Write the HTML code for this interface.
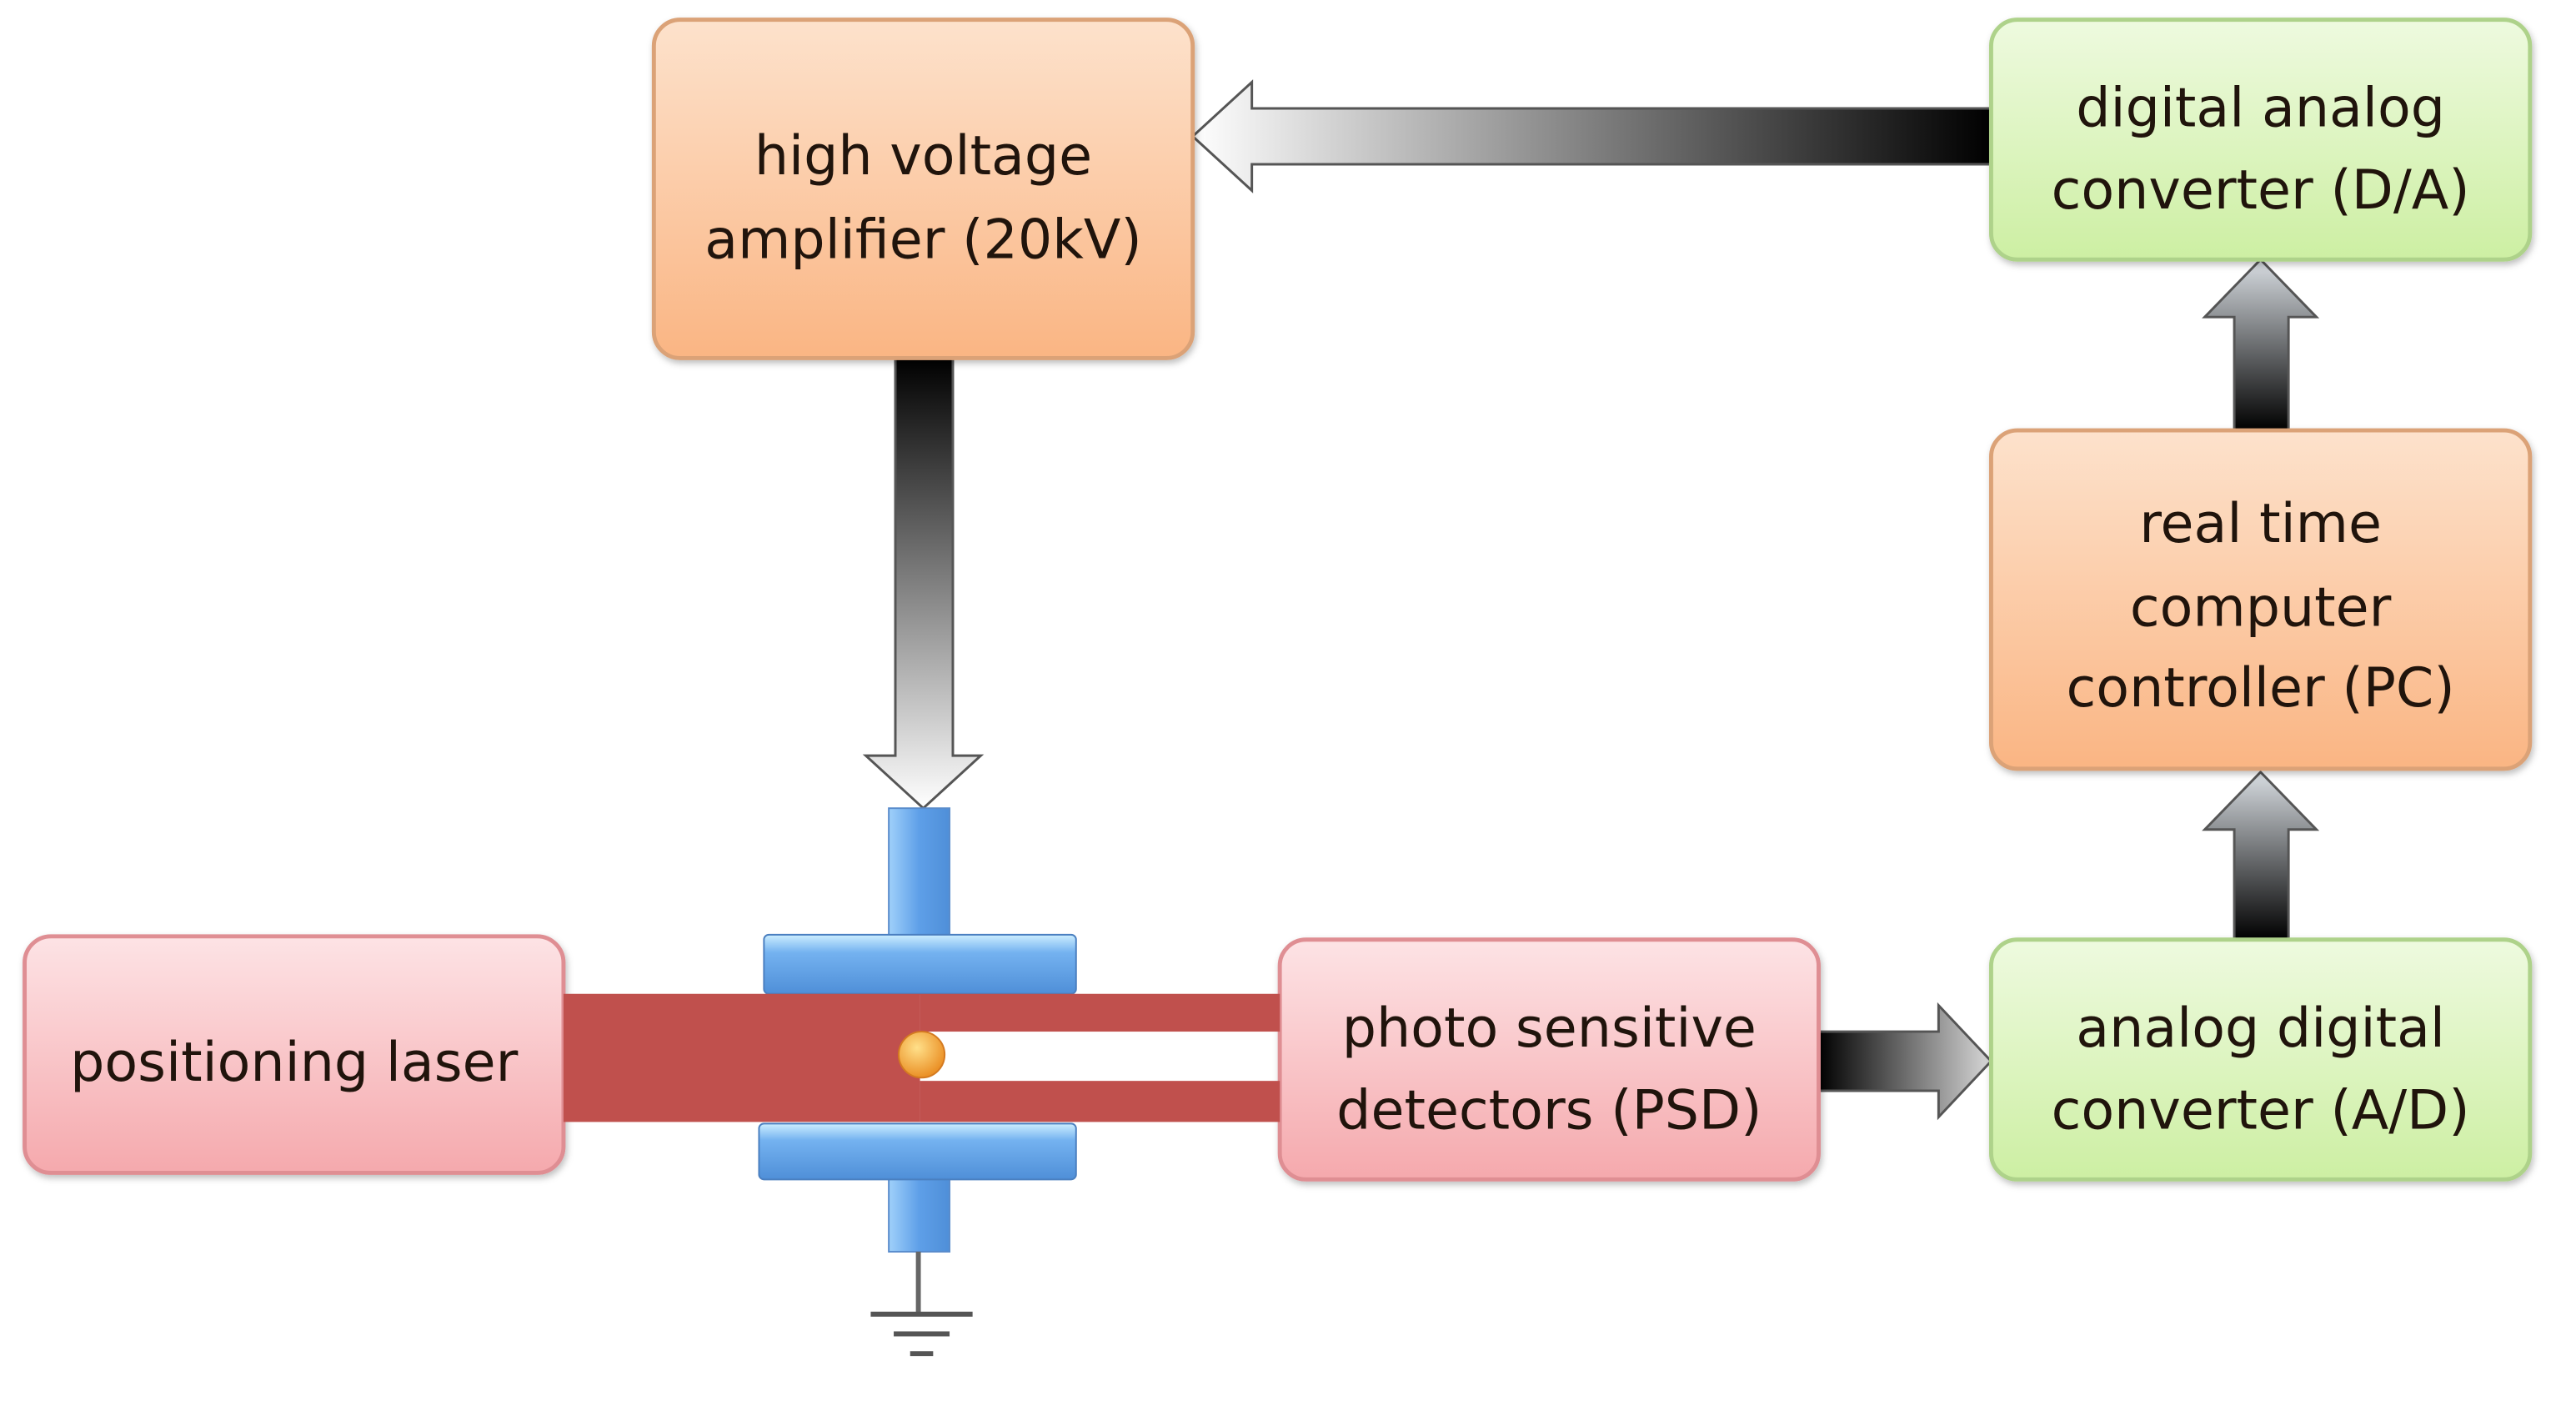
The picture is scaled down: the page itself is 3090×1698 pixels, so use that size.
<!DOCTYPE html>
<html><head><meta charset="utf-8"><style>
html,body{margin:0;padding:0;background:#fff;}
svg{display:block;}
text{font-family:"DejaVu Sans","Liberation Sans",sans-serif;font-size:33px;fill:#20140c;text-anchor:middle;}
</style></head><body>
<svg width="3090" height="1698" viewBox="0 0 1568 862" preserveAspectRatio="none" xmlns="http://www.w3.org/2000/svg">
<defs>
<linearGradient id="or" x1="0" y1="0" x2="0" y2="1"><stop offset="0" stop-color="#fde2cc"/><stop offset="1" stop-color="#fab583"/></linearGradient>
<linearGradient id="gr" x1="0" y1="0" x2="0" y2="1"><stop offset="0" stop-color="#eefadf"/><stop offset="1" stop-color="#cdefa3"/></linearGradient>
<linearGradient id="pk" x1="0" y1="0" x2="0" y2="1"><stop offset="0" stop-color="#fde3e5"/><stop offset="1" stop-color="#f5a9ad"/></linearGradient>
<linearGradient id="bl" x1="0" y1="0" x2="0" y2="1"><stop offset="0" stop-color="#cdeeff"/><stop offset="0.3" stop-color="#74b2f0"/><stop offset="1" stop-color="#4f8fd8"/></linearGradient>
<linearGradient id="blv" x1="0" y1="0" x2="1" y2="0"><stop offset="0" stop-color="#9fd0fa"/><stop offset="0.5" stop-color="#5e9fe8"/><stop offset="1" stop-color="#4f8fd8"/></linearGradient>
<linearGradient id="aL" x1="0" y1="0" x2="1" y2="0"><stop offset="0" stop-color="#fff"/><stop offset="1" stop-color="#000"/></linearGradient>
<linearGradient id="aD" x1="0" y1="0" x2="0" y2="1"><stop offset="0" stop-color="#000"/><stop offset="1" stop-color="#fff"/></linearGradient>
<linearGradient id="aR" x1="0" y1="0" x2="1" y2="0"><stop offset="0" stop-color="#000"/><stop offset="1" stop-color="#d8d8d8"/></linearGradient>
<linearGradient id="aU" x1="0" y1="1" x2="0" y2="0"><stop offset="0" stop-color="#000"/><stop offset="1" stop-color="#d8dde2"/></linearGradient>
<radialGradient id="ball" cx="0.4" cy="0.35" r="0.7"><stop offset="0" stop-color="#ffe08a"/><stop offset="1" stop-color="#e98a1e"/></radialGradient>
<filter id="sh" x="-5%" y="-5%" width="115%" height="120%"><feDropShadow dx="1" dy="2" stdDeviation="2" flood-color="#000" flood-opacity="0.25"/></filter>
</defs>

<!-- arrows -->
<path d="M1212,66 L762,66 L762,50 L726,83 L762,116 L762,100 L1212,100 Z" fill="url(#aL)" stroke="#555" stroke-width="1.5"/>
<path d="M545,218 L580,218 L580,460 L597,460 L562,492 L527,460 L545,460 Z" fill="url(#aD)" stroke="#555" stroke-width="1.5"/>
<path d="M1107,628 L1180,628 L1180,612 L1212,646 L1180,680 L1180,664 L1107,664 Z" fill="url(#aR)" stroke="#555" stroke-width="1.5"/>
<path d="M1360,572 L1393,572 L1393,505 L1410,505 L1376,470 L1342,505 L1360,505 Z" fill="url(#aU)" stroke="#555" stroke-width="1.5"/>
<path d="M1360,262 L1393,262 L1393,193 L1410,193 L1376,158 L1342,193 L1360,193 Z" fill="url(#aU)" stroke="#555" stroke-width="1.5"/>

<!-- boxes -->
<g filter="url(#sh)">
<rect x="398" y="12" width="328" height="206" rx="16" fill="url(#or)" stroke="#dba277" stroke-width="2.5"/>
<rect x="1212" y="12" width="328" height="146" rx="16" fill="url(#gr)" stroke="#aed28a" stroke-width="2.5"/>
<rect x="1212" y="262" width="328" height="206" rx="16" fill="url(#or)" stroke="#dba277" stroke-width="2.5"/>
<rect x="1212" y="572" width="328" height="146" rx="16" fill="url(#gr)" stroke="#aed28a" stroke-width="2.5"/>
<rect x="779" y="572" width="328" height="146" rx="16" fill="url(#pk)" stroke="#df8e93" stroke-width="2.5"/>
<rect x="15" y="570" width="328" height="144" rx="16" fill="url(#pk)" stroke="#df8e93" stroke-width="2.5"/>
</g>
<text x="562" y="106">high voltage</text><text x="562" y="157">amplifier (20kV)</text>
<text x="1376" y="77">digital analog</text><text x="1376" y="127">converter (D/A)</text>
<text x="1376" y="330">real time</text><text x="1376" y="381">computer</text><text x="1376" y="430">controller (PC)</text>
<text x="1376" y="637">analog digital</text><text x="1376" y="687">converter (A/D)</text>
<text x="943" y="637">photo sensitive</text><text x="943" y="687">detectors (PSD)</text>
<text x="179" y="658">positioning laser</text>

<!-- rods -->
<rect x="541" y="492" width="37" height="80" fill="url(#blv)" stroke="#5a8ccc" stroke-width="1"/>
<rect x="541" y="714" width="37" height="48" fill="url(#blv)" stroke="#5a8ccc" stroke-width="1"/>
<!-- ground -->
<line x1="559" y1="762" x2="559" y2="800" stroke="#666" stroke-width="3"/>
<line x1="530" y1="800" x2="592" y2="800" stroke="#555" stroke-width="3"/>
<line x1="544" y1="812" x2="578" y2="812" stroke="#555" stroke-width="3"/>
<line x1="554" y1="824" x2="568" y2="824" stroke="#555" stroke-width="3"/>

<!-- plates -->
<rect x="465" y="569" width="190" height="36" rx="3" fill="url(#bl)" stroke="#4a7fc0" stroke-width="1"/>
<rect x="462" y="684" width="193" height="34" rx="3" fill="url(#bl)" stroke="#4a7fc0" stroke-width="1"/>

<!-- laser beams -->
<rect x="343" y="605" width="217" height="78" fill="#c0504d"/>
<rect x="560" y="605" width="219" height="23" fill="#c0504d"/>
<rect x="560" y="658" width="219" height="25" fill="#c0504d"/>
<circle cx="561" cy="642" r="14" fill="url(#ball)" stroke="#d47a20" stroke-width="1"/>
</svg>
</body></html>
